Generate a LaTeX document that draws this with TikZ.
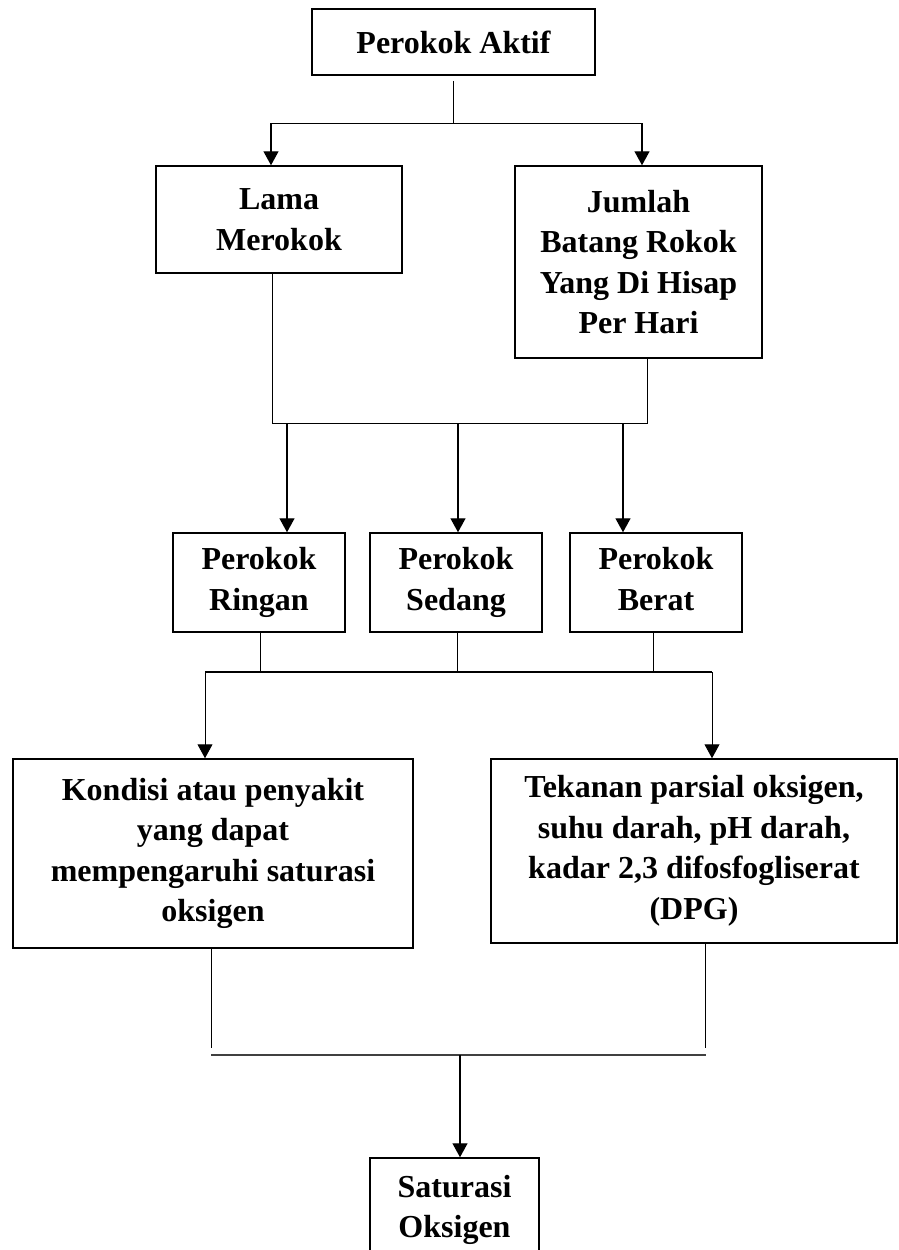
\documentclass[tikz,border=0pt]{standalone}
\usepackage{fontspec}
\setmainfont{Liberation Serif}
\usetikzlibrary{arrows.meta}
\begin{document}
\begin{tikzpicture}[x=1pt,y=-1pt,
  box/.style={draw,line width=1.5pt,inner sep=0pt,align=center,
    font=\bfseries\fontsize{32}{40.5}\selectfont},
  conn/.style={line width=1pt},
  arr/.style={line width=1.4pt,-{Triangle[width=15pt,length=14pt]}}]
\useasboundingbox (0,0) rectangle (899,1250);
\clip (0,0) rectangle (899,1250);
\fill[white] (0,0) rectangle (899,1250);
% boxes
\node[box,minimum width=283pt,minimum height=66pt] (aktif) at (453.5,42) {Perokok Aktif};
\node[box,minimum width=246pt,minimum height=107pt] (lama) at (279,219.5) {Lama\\Merokok};
\node[box,minimum width=247pt,minimum height=192pt] (jumlah) at (638.5,262) {Jumlah\\Batang Rokok\\Yang Di Hisap\\Per Hari};
\node[box,minimum width=172pt,minimum height=99pt] (ringan) at (259,582.5) {Perokok\\Ringan};
\node[box,minimum width=172pt,minimum height=99pt] (sedang) at (456,582.5) {Perokok\\Sedang};
\node[box,minimum width=172pt,minimum height=99pt] (berat) at (656,582.5) {Perokok\\Berat\vphantom{g}};
\node[box,minimum width=400pt,minimum height=189pt] (kondisi) at (213,853.5) {Kondisi atau penyakit\\yang dapat\\mempengaruhi saturasi\\oksigen};
\node[box,minimum width=406pt,minimum height=184pt] (tekanan) at (694,851) {Tekanan parsial oksigen,\\suhu darah, pH darah,\\kadar 2,3 difosfogliserat\\(DPG)};
\node[box,minimum width=169pt,minimum height=104pt] (saturasi) at (454.5,1210) {Saturasi\\Oksigen};
% junction coordinates
\coordinate (a1l) at (271,123);
\coordinate (a1r) at (642,123);
\coordinate (b1l) at (272,423);
\coordinate (b1r) at (647,423);
\coordinate (b2a) at (287,423);
\coordinate (b2b) at (458,423);
\coordinate (b2c) at (623,423);
\coordinate (c1a) at (260,672);
\coordinate (c1b) at (457,672);
\coordinate (c1c) at (653,672);
\coordinate (c2l) at (205,672);
\coordinate (c2r) at (712,672);
\coordinate (d1l) at (211,1048);
\coordinate (d1r) at (705,1048);
\coordinate (d2l) at (211,1055);
\coordinate (d2r) at (706,1055);
\coordinate (d2m) at (460,1055);
% level 1
\draw[conn] ([yshift=-5pt]aktif.south) -- (aktif.south |- a1l);
\draw[conn] (a1l) -- (a1r);
\draw[arr] (a1l) -- (a1l |- lama.north);
\draw[arr] (a1r) -- (a1r |- jumlah.north);
% level 2
\draw[conn] (b1l |- lama.south) -- (b1l) -- (b1r) -- (b1r |- jumlah.south);
\draw[arr] (b2a) -- (b2a |- ringan.north);
\draw[arr] (b2b) -- (b2b |- sedang.north);
\draw[arr] (b2c) -- (b2c |- berat.north);
% level 3
\draw[conn] (c1a |- ringan.south) -- (c1a);
\draw[conn] (c1b |- sedang.south) -- (c1b);
\draw[conn] (c1c |- berat.south) -- (c1c);
\draw[conn,line width=1.4pt] (c2l) -- (c2r);
\draw[arr,line width=1pt] (c2l) -- (c2l |- kondisi.north);
\draw[arr,line width=1pt] (c2r) -- (c2r |- tekanan.north);
% level 4
\draw[conn] (d1l |- kondisi.south) -- (d1l);
\draw[conn] (d1r |- tekanan.south) -- (d1r);
\draw[conn,draw=black!75,line width=1.3pt] (d2l) -- (d2r);
\draw[arr] (d2m) -- (d2m |- saturasi.north);
\end{tikzpicture}
\end{document}
